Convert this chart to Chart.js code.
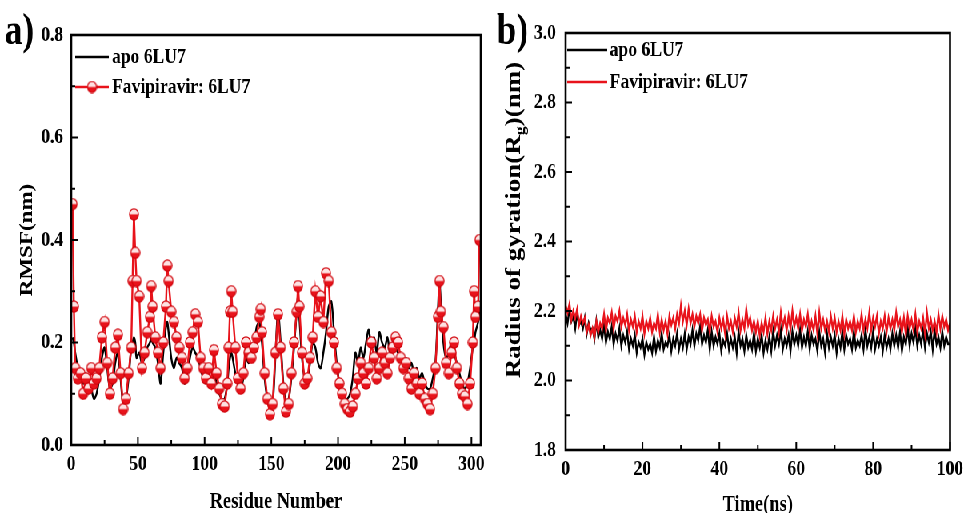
<!DOCTYPE html>
<html>
<head>
<meta charset="utf-8">
<script src="https://cdn.jsdelivr.net/npm/chart.js@4.4.1/dist/chart.umd.min.js"></script>
<style>
html, body { margin: 0; padding: 0; background: #fff; overflow: hidden; }
#wrap { position: relative; width: 968px; height: 513px; overflow: hidden; }
/* the source figure is squeezed sideways, so the whole drawing is too */
#inner { position: absolute; left: 0; top: 0; width: 1210px; height: 513px; transform: scaleX(0.8); transform-origin: 0 0; }
#chartA { position: absolute; left: 0; top: 0; }
#chartB { position: absolute; left: 612px; top: 0; }
</style>
</head>
<body>
<div id="wrap"><div id="inner">
  <canvas id="chartA" width="612" height="513"></canvas>
  <canvas id="chartB" width="598" height="513"></canvas>
</div></div>
<script>
// ---- panel a: RMSF per residue ----
const residues = [
  1,2,3,5,7,9,11,13,15,17,
  19,21,23,25,27,29,31,33,35,37,
  39,41,43,45,46,47,48,49,51,53,
  55,57,59,60,61,63,65,67,69,71,
  72,73,75,77,79,81,83,85,87,89,
  91,93,95,97,99,101,103,105,107,109,
  111,113,115,117,118,119,120,121,123,125,
  127,129,131,133,135,137,139,141,142,143,
  145,147,149,151,153,155,157,159,161,163,
  165,167,169,170,171,173,175,177,179,181,
  183,185,187,189,191,193,195,197,199,201,
  203,205,207,209,211,213,215,217,219,221,
  223,225,227,229,231,233,235,237,239,241,
  243,245,247,249,251,253,255,257,259,261,
  263,265,267,269,271,273,275,276,277,279,
  281,283,285,287,289,291,293,295,297,299,
  301,302,303,305,306
];
const rmsfApo = [
  0.21,0.20,0.18,0.15,0.13,0.12,0.14,0.12,0.11,0.09,
  0.10,0.13,0.17,0.19,0.15,0.11,0.12,0.16,0.18,0.13,
  0.08,0.09,0.13,0.19,0.20,0.21,0.20,0.17,0.18,0.16,
  0.17,0.19,0.20,0.21,0.20,0.19,0.16,0.12,0.18,0.23,
  0.24,0.22,0.17,0.15,0.17,0.16,0.15,0.12,0.14,0.17,
  0.19,0.18,0.17,0.15,0.13,0.12,0.13,0.12,0.15,0.12,
  0.10,0.09,0.09,0.12,0.15,0.17,0.18,0.17,0.14,0.12,
  0.11,0.13,0.17,0.16,0.17,0.19,0.23,0.24,0.22,0.20,
  0.13,0.09,0.07,0.08,0.17,0.26,0.20,0.12,0.08,0.09,
  0.13,0.19,0.26,0.29,0.25,0.17,0.13,0.13,0.16,0.20,
  0.19,0.16,0.15,0.18,0.22,0.27,0.28,0.22,0.16,0.12,
  0.10,0.09,0.09,0.10,0.13,0.18,0.16,0.19,0.17,0.20,
  0.225,0.19,0.21,0.18,0.22,0.20,0.19,0.21,0.18,0.20,
  0.19,0.18,0.17,0.16,0.17,0.15,0.16,0.14,0.15,0.13,
  0.14,0.12,0.11,0.11,0.13,0.16,0.27,0.32,0.28,0.20,
  0.17,0.18,0.20,0.18,0.16,0.14,0.12,0.11,0.12,0.15,
  0.19,0.20,0.22,0.24,0.26
];
const rmsfFav = [
  0.47,0.27,0.15,0.13,0.14,0.10,0.13,0.11,0.15,0.12,
  0.13,0.15,0.21,0.24,0.16,0.10,0.13,0.19,0.215,0.14,
  0.07,0.09,0.14,0.19,0.32,0.45,0.375,0.32,0.29,0.15,
  0.18,0.22,0.25,0.31,0.27,0.21,0.18,0.15,0.20,0.27,
  0.35,0.32,0.26,0.24,0.21,0.19,0.17,0.13,0.15,0.20,
  0.22,0.255,0.24,0.17,0.15,0.13,0.15,0.12,0.185,0.14,
  0.11,0.08,0.075,0.12,0.19,0.26,0.30,0.26,0.19,0.13,
  0.11,0.14,0.20,0.18,0.17,0.19,0.21,0.25,0.265,0.22,
  0.14,0.09,0.06,0.08,0.18,0.255,0.19,0.11,0.065,0.08,
  0.14,0.20,0.26,0.31,0.27,0.18,0.12,0.13,0.17,0.21,
  0.30,0.25,0.29,0.24,0.335,0.32,0.22,0.20,0.15,0.12,
  0.10,0.08,0.07,0.065,0.075,0.10,0.13,0.16,0.14,0.12,
  0.15,0.20,0.17,0.13,0.15,0.18,0.16,0.14,0.17,0.19,
  0.21,0.20,0.17,0.15,0.16,0.13,0.11,0.14,0.12,0.10,
  0.12,0.09,0.08,0.07,0.10,0.15,0.25,0.32,0.26,0.23,
  0.16,0.14,0.18,0.20,0.15,0.12,0.10,0.095,0.08,0.12,
  0.20,0.30,0.25,0.27,0.40
];
const xTicksA = [0, 50, 100, 150, 200, 250, 300];
const xMinorA = [25, 75, 125, 175, 225, 275];
const yTicksA = [0, 0.2, 0.4, 0.6, 0.8];
const yMinorA = [0.1, 0.3, 0.5, 0.7];

// ---- panel b: radius of gyration over time ----
const timeNs = [
  0,0.5,1,1.5,2,2.5,3,3.5,4,4.5,5,5.5,6,6.5,7,7.5,8,8.5,9,9.5,
  10,10.5,11,11.5,12,12.5,13,13.5,14,14.5,15,15.5,16,16.5,17,17.5,18,18.5,19,19.5,
  20,20.5,21,21.5,22,22.5,23,23.5,24,24.5,25,25.5,26,26.5,27,27.5,28,28.5,29,29.5,
  30,30.5,31,31.5,32,32.5,33,33.5,34,34.5,35,35.5,36,36.5,37,37.5,38,38.5,39,39.5,
  40,40.5,41,41.5,42,42.5,43,43.5,44,44.5,45,45.5,46,46.5,47,47.5,48,48.5,49,49.5,
  50,50.5,51,51.5,52,52.5,53,53.5,54,54.5,55,55.5,56,56.5,57,57.5,58,58.5,59,59.5,
  60,60.5,61,61.5,62,62.5,63,63.5,64,64.5,65,65.5,66,66.5,67,67.5,68,68.5,69,69.5,
  70,70.5,71,71.5,72,72.5,73,73.5,74,74.5,75,75.5,76,76.5,77,77.5,78,78.5,79,79.5,
  80,80.5,81,81.5,82,82.5,83,83.5,84,84.5,85,85.5,86,86.5,87,87.5,88,88.5,89,89.5,
  90,90.5,91,91.5,92,92.5,93,93.5,94,94.5,95,95.5,96,96.5,97,97.5,98,98.5,99,99.5,
  100
];
const rgApo = [
  2.190,2.165,2.205,2.170,2.185,2.150,2.195,2.160,2.170,2.150,2.180,2.135,2.165,2.145,2.150,2.120,2.170,2.125,2.145,2.120,
  2.160,2.110,2.140,2.120,2.155,2.105,2.135,2.115,2.150,2.100,2.130,2.110,2.140,2.090,2.120,2.100,2.130,2.080,2.110,2.095,
  2.120,2.075,2.110,2.090,2.105,2.080,2.125,2.085,2.115,2.095,2.135,2.090,2.110,2.100,2.130,2.085,2.120,2.100,2.135,2.090,
  2.120,2.095,2.135,2.090,2.125,2.105,2.145,2.100,2.135,2.115,2.155,2.105,2.130,2.110,2.145,2.090,2.140,2.100,2.125,2.105,
  2.135,2.085,2.115,2.100,2.135,2.090,2.120,2.095,2.125,2.080,2.140,2.100,2.120,2.085,2.130,2.095,2.115,2.090,2.135,2.085,
  2.120,2.095,2.130,2.080,2.115,2.090,2.125,2.085,2.140,2.100,2.130,2.105,2.145,2.090,2.120,2.100,2.130,2.085,2.140,2.105,
  2.130,2.100,2.145,2.095,2.125,2.100,2.140,2.090,2.130,2.105,2.120,2.085,2.140,2.100,2.120,2.080,2.135,2.095,2.125,2.100,
  2.130,2.080,2.120,2.095,2.140,2.090,2.130,2.105,2.120,2.090,2.140,2.095,2.115,2.100,2.130,2.090,2.145,2.100,2.125,2.095,
  2.140,2.090,2.120,2.100,2.125,2.085,2.130,2.095,2.120,2.090,2.135,2.100,2.130,2.095,2.140,2.085,2.125,2.105,2.150,2.100,
  2.135,2.110,2.150,2.100,2.130,2.105,2.145,2.095,2.135,2.110,2.140,2.090,2.145,2.105,2.125,2.095,2.140,2.100,2.125,2.105,
  2.105
];
const rgFav = [
  2.215,2.195,2.220,2.175,2.200,2.180,2.205,2.160,2.185,2.165,2.180,2.140,2.160,2.130,2.150,2.125,2.170,2.140,2.165,2.150,
  2.190,2.145,2.180,2.165,2.195,2.150,2.185,2.170,2.200,2.155,2.180,2.160,2.190,2.145,2.175,2.155,2.185,2.140,2.170,2.150,
  2.185,2.135,2.170,2.150,2.180,2.140,2.165,2.150,2.190,2.140,2.175,2.145,2.170,2.135,2.185,2.160,2.180,2.150,2.190,2.165,
  2.215,2.170,2.200,2.160,2.205,2.165,2.190,2.155,2.185,2.165,2.190,2.145,2.180,2.160,2.175,2.140,2.185,2.155,2.170,2.140,
  2.180,2.150,2.175,2.135,2.185,2.150,2.170,2.140,2.180,2.155,2.195,2.145,2.175,2.150,2.205,2.160,2.180,2.145,2.170,2.140,
  2.170,2.130,2.165,2.140,2.180,2.135,2.170,2.145,2.185,2.150,2.175,2.140,2.195,2.155,2.180,2.145,2.185,2.150,2.200,2.155,
  2.180,2.150,2.190,2.145,2.175,2.155,2.190,2.140,2.170,2.145,2.185,2.135,2.195,2.150,2.175,2.145,2.170,2.140,2.185,2.150,
  2.180,2.140,2.170,2.145,2.185,2.135,2.175,2.150,2.170,2.145,2.185,2.140,2.170,2.150,2.190,2.145,2.175,2.150,2.195,2.145,
  2.180,2.155,2.185,2.135,2.170,2.150,2.185,2.140,2.180,2.150,2.175,2.145,2.195,2.155,2.175,2.140,2.180,2.135,2.185,2.150,
  2.175,2.145,2.190,2.140,2.170,2.150,2.180,2.135,2.195,2.150,2.175,2.145,2.170,2.140,2.190,2.150,2.185,2.155,2.175,2.145,
  2.165
];
const xTicksB = [0, 20, 40, 60, 80, 100];
const xMinorB = [10, 30, 50, 70, 90];
const yTicksB = [1.8, 2.0, 2.2, 2.4, 2.6, 2.8, 3.0];
const yMinorB = [1.9, 2.1, 2.3, 2.5, 2.7, 2.9];

const RED = '#e8131b';
const FONT = "'Liberation Serif', 'Times New Roman', serif";
Chart.defaults.font.family = FONT;
Chart.defaults.font.weight = 'bold';
Chart.defaults.color = '#000';

// red circle, pale top half - the marker used for the Favipiravir series
function makeMarker() {
  const c = document.createElement('canvas');
  c.width = 13; c.height = 13;
  const g = c.getContext('2d');
  g.beginPath(); g.arc(6.5, 6.5, 5.6, 0, Math.PI * 2); g.fillStyle = RED; g.fill();
  g.beginPath(); g.arc(6.5, 6.5, 5.6, Math.PI, 0); g.closePath(); g.fillStyle = '#fde2e2'; g.fill();
  g.beginPath(); g.arc(6.5, 6.5, 5.6, 0, Math.PI * 2); g.strokeStyle = '#d0050d'; g.lineWidth = 1.2; g.stroke();
  return c;
}
const marker = makeMarker();

function pairs(xs, ys) {
  return xs.map((x, i) => ({ x: x, y: ys[i] }));
}

// box frame with inward tick marks
const framePlugin = {
  id: 'frame',
  afterDatasetsDraw(chart, args, o) {
    const { ctx, chartArea: a, scales } = chart;
    const x = scales.x, y = scales.y;
    ctx.save();
    ctx.strokeStyle = '#000';
    ctx.lineWidth = 2;
    ctx.beginPath();
    o.xMajor.forEach(v => { const p = x.getPixelForValue(v); ctx.moveTo(p, a.bottom); ctx.lineTo(p, a.bottom - 8); });
    o.xMinor.forEach(v => { const p = x.getPixelForValue(v); ctx.moveTo(p, a.bottom); ctx.lineTo(p, a.bottom - 5); });
    o.yMajor.forEach(v => { const p = y.getPixelForValue(v); ctx.moveTo(a.left, p); ctx.lineTo(a.left + 8, p); });
    o.yMinor.forEach(v => { const p = y.getPixelForValue(v); ctx.moveTo(a.left, p); ctx.lineTo(a.left + 5, p); });
    ctx.stroke();
    ctx.lineWidth = 2.6;
    ctx.strokeRect(a.left, a.top, a.right - a.left, a.bottom - a.top);
    ctx.restore();
  }
};

// legend in the top-left corner of the plot, panel letter, custom y title
const decorPlugin = {
  id: 'decor',
  afterDraw(chart, args, o) {
    const { ctx, chartArea: a } = chart;
    ctx.save();
    ctx.textBaseline = 'middle';
    o.legend.forEach((it, i) => {
      const yy = a.top + o.rowY[i];
      const x0 = a.left + o.lineX[0], x1 = a.left + o.lineX[1];
      ctx.strokeStyle = it.color;
      ctx.lineWidth = 2.4;
      ctx.beginPath(); ctx.moveTo(x0, yy); ctx.lineTo(x1, yy); ctx.stroke();
      if (it.marker) ctx.drawImage(marker, (x0 + x1) / 2 - 6.5, yy - 6.5);
      ctx.fillStyle = '#000';
      ctx.font = 'bold 22px ' + FONT;
      ctx.textAlign = 'left';
      ctx.fillText(it.text, x1 + o.gap, yy);
    });
    ctx.font = 'bold 44px ' + FONT;
    ctx.textBaseline = 'alphabetic';
    ctx.fillText(o.letter, o.letterX, 44);
    if (o.yTitle) {
      const t = o.yTitle;
      ctx.translate(t.x, t.y);
      ctx.rotate(-Math.PI / 2);
      ctx.textBaseline = 'middle';
      const big = 'bold ' + t.size + 'px ' + FONT;
      const small = 'bold ' + Math.round(t.size * 0.65) + 'px ' + FONT;
      ctx.font = big;
      const w1 = ctx.measureText(t.before).width;
      const w3 = ctx.measureText(t.after).width;
      ctx.font = small;
      const w2 = ctx.measureText(t.sub).width;
      let sx = -(w1 + w2 + w3) / 2;
      ctx.font = big;
      ctx.fillText(t.before, sx, 0);
      sx += w1;
      ctx.font = small;
      ctx.fillText(t.sub, sx, t.size * 0.3);
      sx += w2;
      ctx.font = big;
      ctx.fillText(t.after, sx, 0);
    }
    ctx.restore();
  }
};

function tickList(list) {
  return scale => { scale.ticks = list.map(v => ({ value: v })); };
}

new Chart(document.getElementById('chartA'), {
  type: 'line',
  data: {
    datasets: [
      {
        label: 'apo 6LU7',
        data: pairs(residues, rmsfApo),
        borderColor: '#000',
        borderWidth: 2.4,
        pointRadius: 0,
        tension: 0.3,
        order: 2
      },
      {
        label: 'Favipiravir: 6LU7',
        data: pairs(residues, rmsfFav),
        borderColor: RED,
        borderWidth: 2.4,
        pointStyle: marker,
        pointRadius: 6,
        tension: 0,
        order: 1
      }
    ]
  },
  options: {
    responsive: false,
    animation: false,
    layout: { padding: { left: 0, right: 5, top: 35, bottom: 0 } },
    plugins: {
      legend: { display: false },
      tooltip: { enabled: false },
      frame: { xMajor: xTicksA, xMinor: xMinorA, yMajor: yTicksA, yMinor: yMinorA },
      decor: {
        legend: [
          { text: 'apo 6LU7', color: '#000' },
          { text: 'Favipiravir: 6LU7', color: RED, marker: true }
        ],
        rowY: [22, 52], lineX: [5, 47], gap: 4,
        letter: 'a)', letterX: 6
      }
    },
    scales: {
      x: {
        type: 'linear', min: 0, max: 307,
        afterBuildTicks: tickList(xTicksA),
        afterFit: s => { s.height = 68; },
        grid: { display: false, drawTicks: false },
        border: { display: false },
        ticks: { font: { size: 22, weight: 'bold' }, padding: 6, maxRotation: 0 },
        title: { display: true, text: 'Residue Number', font: { size: 23, weight: 'bold' }, padding: { top: 0, bottom: -3 } }
      },
      y: {
        type: 'linear', min: 0, max: 0.8,
        afterBuildTicks: tickList(yTicksA),
        afterFit: s => { s.width = 89; },
        grid: { display: false, drawTicks: false },
        border: { display: false },
        ticks: { font: { size: 22, weight: 'bold' }, padding: 10, callback: v => v.toFixed(1) },
        title: { display: true, text: 'RMSF(nm)', font: { size: 23, weight: 'bold' }, padding: { top: 20, bottom: 0 } }
      }
    }
  },
  plugins: [framePlugin, decorPlugin]
});

new Chart(document.getElementById('chartB'), {
  type: 'line',
  data: {
    datasets: [
      {
        label: 'apo 6LU7',
        data: pairs(timeNs, rgApo),
        borderColor: '#000',
        borderWidth: 2.4,
        pointRadius: 0,
        tension: 0,
        order: 2
      },
      {
        label: 'Favipiravir: 6LU7',
        data: pairs(timeNs, rgFav),
        borderColor: RED,
        borderWidth: 2.4,
        pointRadius: 0,
        tension: 0,
        order: 1
      }
    ]
  },
  options: {
    responsive: false,
    animation: false,
    layout: { padding: { left: 0, right: 19, top: 33, bottom: 0 } },
    plugins: {
      legend: { display: false },
      tooltip: { enabled: false },
      frame: { xMajor: xTicksB, xMinor: xMinorB, yMajor: yTicksB, yMinor: yMinorB },
      decor: {
        legend: [
          { text: 'apo 6LU7', color: '#000' },
          { text: 'Favipiravir: 6LU7', color: RED }
        ],
        rowY: [17, 49], lineX: [2, 52], gap: 3,
        letter: 'b)', letterX: 9,
        yTitle: { x: 31, y: 220, size: 27, before: 'Radius of gyration(R', sub: 'g', after: ')(nm)' }
      }
    },
    scales: {
      x: {
        type: 'linear', min: 0, max: 100,
        afterBuildTicks: tickList(xTicksB),
        afterFit: s => { s.height = 63; },
        grid: { display: false, drawTicks: false },
        border: { display: false },
        ticks: { font: { size: 22, weight: 'bold' }, padding: 6, maxRotation: 0 },
        title: { display: true, text: 'Time(ns)', font: { size: 23, weight: 'bold' }, padding: { top: 0, bottom: -6 } }
      },
      y: {
        type: 'linear', min: 1.8, max: 3.0,
        afterBuildTicks: tickList(yTicksB),
        afterFit: s => { s.width = 95; },
        grid: { display: false, drawTicks: false },
        border: { display: false },
        ticks: { font: { size: 22, weight: 'bold' }, padding: 12, callback: v => v.toFixed(1) },
        title: { display: false }
      }
    }
  },
  plugins: [framePlugin, decorPlugin]
});
</script>
</body>
</html>
